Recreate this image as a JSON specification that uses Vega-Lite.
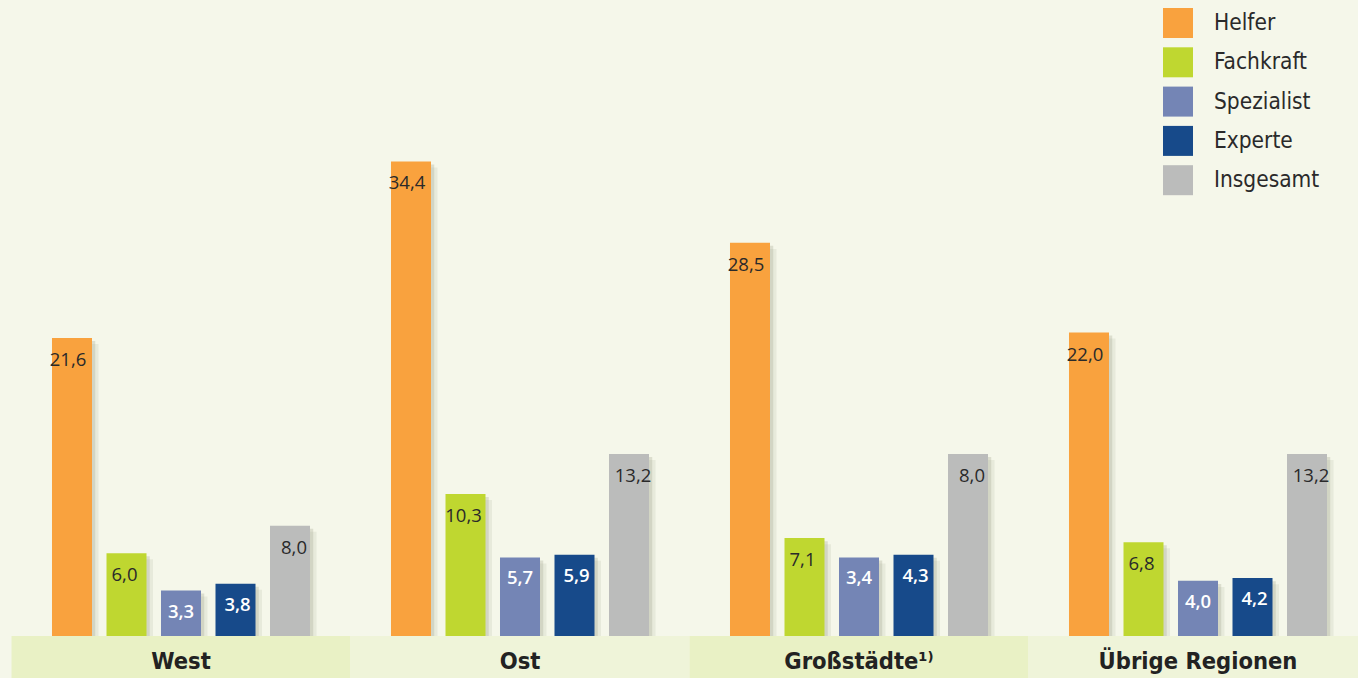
{
  "$schema": "https://vega.github.io/schema/vega-lite/v6.json",
  "width": 1358,
  "height": 678,
  "autosize": {"type": "fit", "contains": "padding"},
  "padding": 0,
  "background": "#f5f7ea",
  "config": {"view": {"stroke": null}, "font": "DejaVu Sans Condensed, Open Sans"},
  "datasets": {
    "bars": [
      {"region": "West", "group": "Helfer", "height": 21.6, "label": "21,6"},
      {"region": "West", "group": "Fachkraft", "height": 6.0, "label": "6,0"},
      {"region": "West", "group": "Spezialist", "height": 3.3, "label": "3,3"},
      {"region": "West", "group": "Experte", "height": 3.8, "label": "3,8"},
      {"region": "West", "group": "Insgesamt", "height": 8.0, "label": "8,0"},
      {"region": "Ost", "group": "Helfer", "height": 34.4, "label": "34,4"},
      {"region": "Ost", "group": "Fachkraft", "height": 10.3, "label": "10,3"},
      {"region": "Ost", "group": "Spezialist", "height": 5.7, "label": "5,7"},
      {"region": "Ost", "group": "Experte", "height": 5.9, "label": "5,9"},
      {"region": "Ost", "group": "Insgesamt", "height": 13.2, "label": "13,2"},
      {"region": "Großstädte", "group": "Helfer", "height": 28.5, "label": "28,5"},
      {"region": "Großstädte", "group": "Fachkraft", "height": 7.1, "label": "7,1"},
      {"region": "Großstädte", "group": "Spezialist", "height": 5.7, "label": "3,4"},
      {"region": "Großstädte", "group": "Experte", "height": 5.9, "label": "4,3"},
      {"region": "Großstädte", "group": "Insgesamt", "height": 13.2, "label": "8,0"},
      {"region": "Übrige Regionen", "group": "Helfer", "height": 22.0, "label": "22,0"},
      {"region": "Übrige Regionen", "group": "Fachkraft", "height": 6.8, "label": "6,8"},
      {"region": "Übrige Regionen", "group": "Spezialist", "height": 4.0, "label": "4,0"},
      {"region": "Übrige Regionen", "group": "Experte", "height": 4.2, "label": "4,2"},
      {"region": "Übrige Regionen", "group": "Insgesamt", "height": 13.2, "label": "13,2"}
    ],
    "regions": [
      {"region": "West", "name": "West"},
      {"region": "Ost", "name": "Ost"},
      {"region": "Großstädte", "name": "Großstädte¹⁾"},
      {"region": "Übrige Regionen", "name": "Übrige Regionen"}
    ]
  },
  "encoding": {
    "x": {"field": "region", "type": "nominal", "sort": ["West", "Ost", "Großstädte", "Übrige Regionen"],
      "scale": {"range": [11.5, 1367.5], "paddingInner": 0, "paddingOuter": 0}, "axis": null}
  },
  "resolve": {"scale": {"xOffset": "independent", "y": "independent"}},
  "layer": [
    {
      "data": {"name": "bars"},
      "mark": {"type": "bar", "color": "#a3a68f", "opacity": 0.16},
      "encoding": {
        "xOffset": {"field": "group", "type": "nominal", "scale": {"domain": ["Helfer", "Fachkraft", "Spezialist", "Experte", "Insgesamt"], "paddingInner": 0.266, "paddingOuter": 0.743, "align": 0.58}},
        "y": {"field": "height", "type": "quantitative", "scale": {"domain": [-2.6, 46.54], "nice": false, "zero": false}, "axis": null}
      }
    },
    {
      "data": {"name": "bars"},
      "mark": {"type": "bar", "color": "#a3a68f", "opacity": 0.3},
      "encoding": {
        "xOffset": {"field": "group", "type": "nominal", "scale": {"domain": ["Helfer", "Fachkraft", "Spezialist", "Experte", "Insgesamt"], "paddingInner": 0.266, "paddingOuter": 0.743, "align": 0.54}},
        "y": {"field": "height", "type": "quantitative", "scale": {"domain": [-2.82, 46.32], "nice": false, "zero": false}, "axis": null}
      }
    },
    {
      "data": {"name": "bars"},
      "mark": {"type": "bar"},
      "encoding": {
        "xOffset": {"field": "group", "type": "nominal", "scale": {"domain": ["Helfer", "Fachkraft", "Spezialist", "Experte", "Insgesamt"], "paddingInner": 0.266, "paddingOuter": 0.743}},
        "y": {"field": "height", "type": "quantitative", "scale": {"domain": [-3.04, 46.1], "nice": false, "zero": false}, "axis": null},
        "color": {"field": "group", "type": "nominal",
          "scale": {"domain": ["Helfer", "Fachkraft", "Spezialist", "Experte", "Insgesamt"], "range": ["#f9a23e", "#bfd730", "#7485b5", "#174a8a", "#bbbcbb"]},
          "legend": {"title": null, "orient": "none", "legendX": 1163, "legendY": 8, "symbolType": "square", "symbolSize": 900, "symbolStrokeWidth": 0, "symbolOpacity": 1, "labelFontSize": 22.5, "labelOffset": 21, "rowPadding": 9.3, "labelColor": "#2a2a2a", "labelFont": "DejaVu Sans Condensed, Open Sans"}
        }
      }
    },
    {
      "data": {"name": "bars"},
      "mark": {"type": "text", "baseline": "alphabetic", "dy": 28, "fontSize": 18.5, "font": "Open Sans", "color": "#2a2a2a"},
      "encoding": {
        "xOffset": {"field": "group", "type": "nominal", "scale": {"type": "point", "domain": ["Helfer", "Fachkraft", "Spezialist", "Experte", "Insgesamt"], "padding": 1.11}},
        "y": {"field": "height", "type": "quantitative", "scale": {"domain": [-3.04, 46.1], "nice": false, "zero": false}, "axis": null},
        "text": {"field": "label"},
        "opacity": {"condition": {"test": "datum.group === 'Spezialist' || datum.group === 'Experte'", "value": 0}, "value": 1}
      }
    },
    {
      "data": {"name": "bars"},
      "mark": {"type": "text", "baseline": "alphabetic", "dy": 27, "fontSize": 18.5, "font": "Open Sans", "fontWeight": 600, "color": "#ffffff"},
      "encoding": {
        "xOffset": {"field": "group", "type": "nominal", "scale": {"type": "point", "domain": ["Helfer", "Fachkraft", "Spezialist", "Experte", "Insgesamt"], "padding": 1.11}},
        "y": {"field": "height", "type": "quantitative", "scale": {"domain": [-3.04, 46.1], "nice": false, "zero": false}, "axis": null},
        "text": {"field": "label"},
        "opacity": {"condition": {"test": "datum.group === 'Spezialist' || datum.group === 'Experte'", "value": 1}, "value": 0}
      }
    },
    {
      "data": {"name": "regions"},
      "mark": {"type": "rect"},
      "encoding": {
        "y": {"datum": 0, "type": "quantitative", "scale": {"domain": [-3.04, 46.1], "nice": false, "zero": false}, "axis": null},
        "y2": {"datum": -3.04},
        "fill": {"condition": {"test": "datum.region === 'West' || datum.region === 'Großstädte'", "value": "#e9f1c5"}, "value": "#eff4d9"}
      }
    },
    {
      "data": {"name": "regions"},
      "mark": {"type": "text", "baseline": "alphabetic", "fontSize": 23.5, "fontWeight": "bold", "color": "#222222"},
      "encoding": {
        "y": {"datum": -2.39, "type": "quantitative", "scale": {"domain": [-3.04, 46.1], "nice": false, "zero": false}, "axis": null},
        "text": {"field": "name"}
      }
    }
  ]
}
